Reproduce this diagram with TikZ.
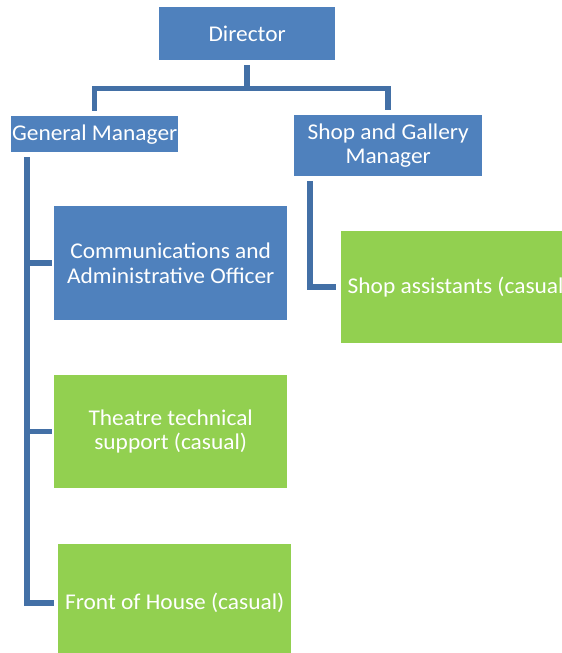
\documentclass[tikz,border=0pt]{standalone}
\usepackage{fontspec}
\setmainfont{Carlito}[FakeStretch=1.04]
\usetikzlibrary{calc}
\definecolor{boxblue}{HTML}{4F81BD}
\definecolor{boxgreen}{HTML}{92D050}
\definecolor{linkblue}{HTML}{4370A6}
\tikzset{
  orgbox/.style={draw=none, text=white, inner sep=0pt, align=center, anchor=north west,
    font=\fontsize{22.5}{24.5}\selectfont},
  bluebox/.style={orgbox, fill=boxblue},
  greenbox/.style={orgbox, fill=boxgreen},
  link/.style={draw=linkblue, line width=5.5pt, line join=miter}
}
\begin{document}
\begin{tikzpicture}[x=1pt, y=-1pt]
  \useasboundingbox (0,0) rectangle (562,653);
  \clip (0,0) rectangle (562,653);

  % top level
  \node[bluebox, minimum width=176pt, minimum height=53pt] (dir) at (159,7) {Director};

  % managers
  \node[bluebox, minimum width=167pt, minimum height=36pt] (gm) at (11,116) {General Manager};
  \node[bluebox, minimum width=188pt, minimum height=61pt] (sgm) at (294,115) {Shop and Gallery\\Manager};

  % staff under the General Manager
  \node[bluebox, minimum width=233pt, minimum height=114pt] (comm) at (54,206) {Communications and\\Administrative Officer};
  \node[greenbox, minimum width=233pt, minimum height=113pt] (tech) at (54,375) {Theatre technical\\support (casual)};
  \node[greenbox, minimum width=233pt, minimum height=118pt] (foh) at (58,544) {Front of House (casual)};

  % staff under the Shop and Gallery Manager (runs past the right edge)
  \node[greenbox, minimum width=236pt, minimum height=112pt] (shop) at (341,231) {Shop assistants (casual)};

  % trunk lines for the side branches
  \coordinate (gmtrunk) at (27,0);
  \coordinate (shoptrunk) at (310,0);

  % director to managers
  \draw[link, shorten <=5pt, shorten >=5pt] (dir.south) -- ++(0,28) -| (gm.north);
  \draw[link, shorten <=5pt, shorten >=5pt] (dir.south) -- ++(0,28) -| (sgm.north);

  % General Manager branch
  \draw[link, shorten <=5pt, shorten >=4pt] (gm.south -| gmtrunk) |- (foh.west);
  \draw[link, shorten >=2pt] (comm.west -| gmtrunk) -- (comm.west);
  \draw[link, shorten >=2pt] (tech.west -| gmtrunk) -- (tech.west);

  % Shop and Gallery Manager branch
  \draw[link, shorten <=5pt, shorten >=5pt] (sgm.south -| shoptrunk) |- (shop.west);
\end{tikzpicture}
\end{document}
